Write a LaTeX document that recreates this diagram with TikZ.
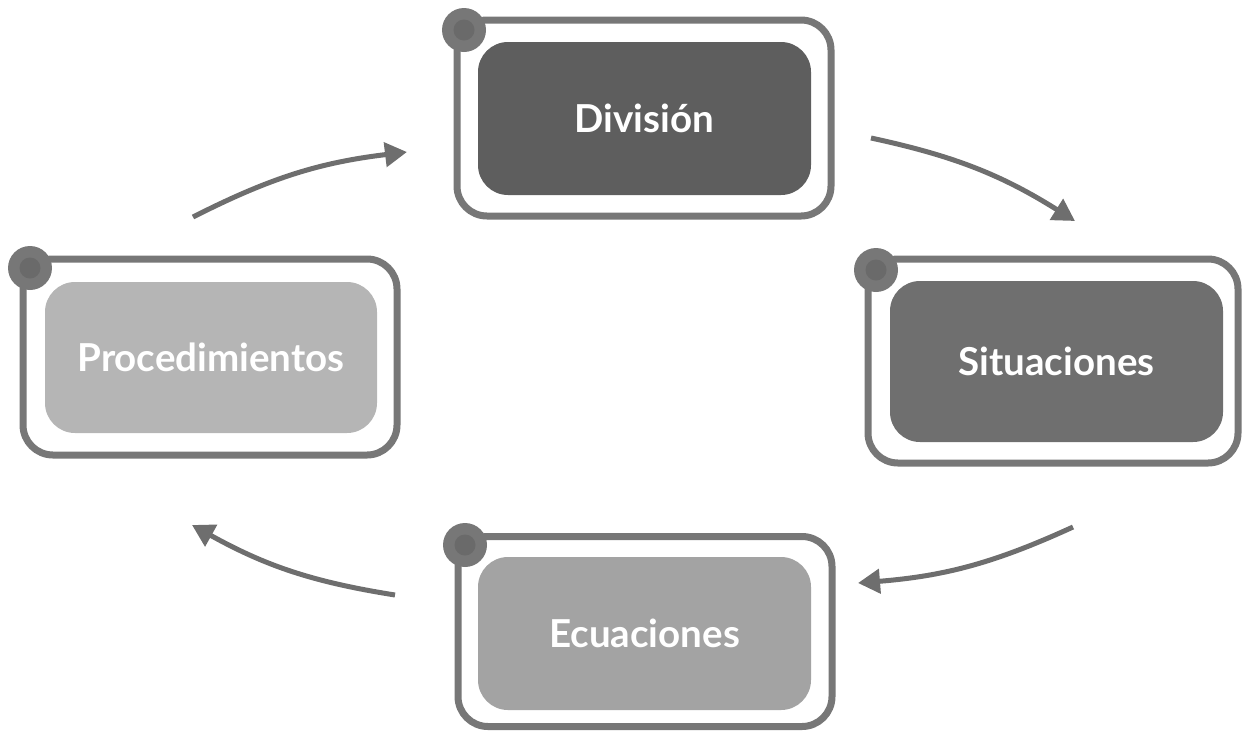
\documentclass[tikz,border=0pt]{standalone}
\usepackage{fontspec}
\setmainfont{Lato}
\usetikzlibrary{arrows.meta}
\definecolor{framegray}{HTML}{777777}
\definecolor{knobgray}{HTML}{777777}
\definecolor{knobcore}{HTML}{6A6A6A}
\definecolor{arrowgray}{HTML}{6E6E6E}
\definecolor{cardA}{HTML}{5E5E5E}
\definecolor{cardB}{HTML}{6F6F6F}
\definecolor{cardC}{HTML}{A3A3A3}
\definecolor{cardD}{HTML}{B5B5B5}
\tikzset{
  boxframe/.style={draw=framegray, line width=7pt, rounded corners=30pt, minimum width=374pt, minimum height=196pt, inner sep=0pt},
  card/.style={rounded corners=30pt, minimum width=333pt, minimum height=153pt, inner sep=0pt, text=white, font=\fontsize{38.5}{46}\selectfont\bfseries},
  knob/.style={circle, fill=knobgray, minimum size=44pt, inner sep=0pt, path picture={\fill[knobcore] (path picture bounding box.center) circle (10.5pt);}},
  flow/.style={draw=arrowgray, line width=5pt, -{Triangle[length=22pt,width=24pt]}}
}
\begin{document}
\begin{tikzpicture}[x=1pt,y=-1pt]
\useasboundingbox (0,0) rectangle (1247,732);
\node[boxframe] (divf) at (644,118) {};
\node[card, fill=cardA] (div) at (644.5,118.5) {División};
\node[knob] (divk) at (464,30) {};
\node[boxframe, minimum width=370pt, minimum height=204pt] (sitf) at (1053,361) {};
\node[card, fill=cardB, minimum height=161pt] (sit) at (1056.5,361.5) {Situaciones};
\node[knob] (sitk) at (876,270) {};
\node[boxframe, minimum height=190pt] (ecuf) at (645,631.5) {};
\node[card, fill=cardC] (ecu) at (644.5,633.5) {Ecuaciones};
\node[knob] (ecuk) at (465,545) {};
\node[boxframe] (procf) at (210,357) {};
\node[card, fill=cardD, minimum width=332pt, minimum height=151pt] (proc) at (211,357.5) {Procedimientos};
\node[knob] (prock) at (30,268) {};
\coordinate (ps) at (193,217);
\coordinate (pe) at (407,152);
\coordinate (ds) at (871,138);
\coordinate (de) at (1075,221);
\coordinate (ss) at (1073,527);
\coordinate (se) at (858,583);
\coordinate (es) at (395,595);
\coordinate (ee) at (192,525);
\draw[flow] (ps) to[bend left=10] (pe);
\draw[flow] (ds) to[bend left=10] (de);
\draw[flow] (ss) to[bend left=10] (se);
\draw[flow] (es) to[bend left=10] (ee);
\end{tikzpicture}
\end{document}
